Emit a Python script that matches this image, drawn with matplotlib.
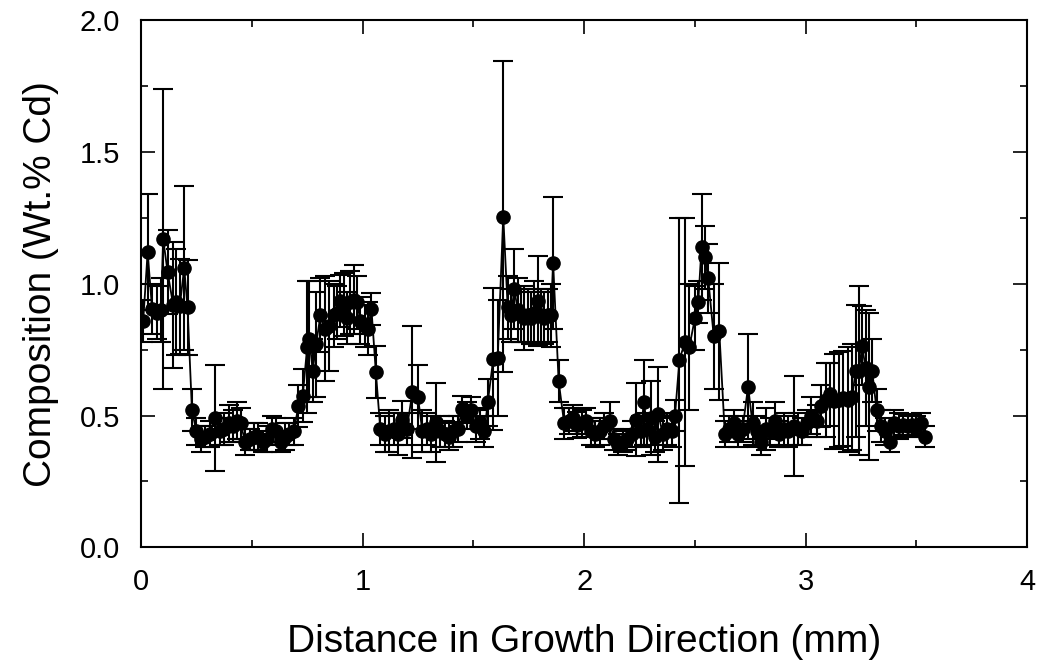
import matplotlib
matplotlib.use("Agg")
import matplotlib.pyplot as plt
from matplotlib.ticker import MultipleLocator, FormatStrFormatter

# ---- data ----
x_a = [0.01, 0.03, 0.05, 0.07, 0.09, 0.10, 0.12, 0.145, 0.16, 0.175, 0.195, 0.21, 0.23, 0.25]
y_a = [0.86, 1.12, 0.905, 0.89, 0.90, 1.17, 1.045, 0.92, 0.93, 0.915, 1.06, 0.91, 0.52, 0.44]
e_a = [0.08, 0.22, 0.095, 0.10, 0.12, 0.57, 0.16, 0.24, 0.20, 0.18, 0.31, 0.18, 0.08, 0.05]

x_b = [0.27, 0.29, 0.31, 0.335, 0.355, 0.375, 0.395, 0.415, 0.435, 0.45, 0.47, 0.49, 0.51,
       0.53, 0.55, 0.57, 0.59, 0.61, 0.63, 0.65, 0.67, 0.69]
y_b = [0.41, 0.42, 0.43, 0.49, 0.44, 0.45, 0.47, 0.46, 0.48, 0.47, 0.40, 0.41, 0.42,
       0.42, 0.40, 0.41, 0.45, 0.44, 0.40, 0.42, 0.43, 0.44]
e_b = [0.05, 0.04, 0.05, 0.20, 0.05, 0.06, 0.07, 0.06, 0.07, 0.06, 0.05, 0.04, 0.05,
       0.05, 0.04, 0.05, 0.05, 0.05, 0.04, 0.05, 0.04, 0.05]

x_c = [0.71, 0.73, 0.75, 0.76, 0.775, 0.79, 0.81, 0.83, 0.85, 0.87, 0.885, 0.90, 0.915,
       0.93, 0.945, 0.96, 0.975, 0.99, 1.01, 1.025, 1.04, 1.06]
y_c = [0.535, 0.575, 0.76, 0.79, 0.67, 0.77, 0.88, 0.83, 0.84, 0.88, 0.89, 0.935, 0.92,
       0.87, 0.93, 0.94, 0.93, 0.86, 0.84, 0.83, 0.905, 0.665]
e_c = [0.08, 0.10, 0.25, 0.22, 0.12, 0.20, 0.14, 0.20, 0.17, 0.12, 0.10, 0.10, 0.12,
       0.10, 0.12, 0.13, 0.10, 0.09, 0.08, 0.10, 0.06, 0.10]

x_d = [1.08, 1.10, 1.12, 1.14, 1.16, 1.18, 1.20, 1.225, 1.25, 1.27, 1.29, 1.31, 1.33,
       1.35, 1.37, 1.39, 1.41, 1.43, 1.45, 1.47, 1.49, 1.51, 1.53, 1.55, 1.565]
y_d = [0.45, 0.43, 0.44, 0.45, 0.43, 0.485, 0.45, 0.59, 0.57, 0.44, 0.45, 0.43, 0.475,
       0.44, 0.43, 0.42, 0.44, 0.45, 0.525, 0.50, 0.52, 0.46, 0.47, 0.44, 0.55]
e_d = [0.06, 0.07, 0.08, 0.06, 0.08, 0.07, 0.06, 0.25, 0.12, 0.08, 0.06, 0.07, 0.15,
       0.06, 0.05, 0.05, 0.06, 0.05, 0.05, 0.05, 0.05, 0.06, 0.06, 0.06, 0.09]

x_e = [1.59, 1.61, 1.635, 1.655, 1.67, 1.685, 1.70, 1.715, 1.73, 1.745, 1.76, 1.775,
       1.79, 1.805, 1.82, 1.835, 1.85, 1.86, 1.885]
y_e = [0.715, 0.72, 1.255, 0.91, 0.88, 0.98, 0.90, 0.88, 0.87, 0.88, 0.87, 0.89,
       0.935, 0.88, 0.87, 0.88, 0.88, 1.08, 0.63]
e_e = [0.27, 0.22, 0.59, 0.12, 0.10, 0.15, 0.12, 0.10, 0.12, 0.10, 0.10, 0.12,
       0.17, 0.10, 0.10, 0.10, 0.12, 0.25, 0.08]

x_f = [1.91, 1.93, 1.95, 1.97, 1.99, 2.01, 2.03, 2.05, 2.07, 2.09, 2.115, 2.135, 2.155,
       2.175, 2.195, 2.215, 2.235, 2.255, 2.27, 2.285, 2.30, 2.32, 2.335, 2.355, 2.375,
       2.395, 2.41]
y_f = [0.47, 0.48, 0.49, 0.465, 0.47, 0.48, 0.44, 0.43, 0.44, 0.46, 0.48, 0.41, 0.39,
       0.40, 0.41, 0.43, 0.485, 0.44, 0.55, 0.45, 0.49, 0.42, 0.505, 0.43, 0.45,
       0.44, 0.50]
e_f = [0.06, 0.05, 0.05, 0.05, 0.05, 0.05, 0.05, 0.05, 0.05, 0.05, 0.07, 0.04, 0.04,
       0.04, 0.04, 0.05, 0.14, 0.06, 0.16, 0.06, 0.14, 0.06, 0.18, 0.06, 0.06,
       0.06, 0.06]

x_g = [2.43, 2.455, 2.475, 2.50, 2.515, 2.53, 2.545, 2.56, 2.585, 2.61]
y_g = [0.71, 0.78, 0.76, 0.87, 0.93, 1.14, 1.10, 1.02, 0.80, 0.82]
e_g = [0.54, 0.47, 0.24, 0.12, 0.08, 0.20, 0.12, 0.13, 0.20, 0.26]

x_h = [2.635, 2.655, 2.675, 2.695, 2.715, 2.74, 2.76, 2.78, 2.80, 2.82, 2.84, 2.86,
       2.88, 2.90, 2.92, 2.945, 2.965, 2.985, 3.005, 3.025]
y_h = [0.43, 0.45, 0.47, 0.43, 0.45, 0.61, 0.47, 0.44, 0.40, 0.45, 0.44, 0.48,
       0.43, 0.45, 0.44, 0.46, 0.45, 0.44, 0.47, 0.50]
e_h = [0.05, 0.05, 0.05, 0.05, 0.05, 0.20, 0.08, 0.06, 0.05, 0.08, 0.05, 0.07,
       0.05, 0.06, 0.06, 0.19, 0.06, 0.05, 0.05, 0.07]

x_i = [3.05, 3.07, 3.09, 3.11, 3.13, 3.15, 3.17, 3.19, 3.21, 3.225, 3.24, 3.255, 3.27,
       3.285, 3.30, 3.32, 3.34, 3.36, 3.38, 3.40, 3.42, 3.44, 3.46, 3.48, 3.50, 3.52, 3.54]
y_i = [0.48, 0.535, 0.56, 0.58, 0.555, 0.56, 0.565, 0.56, 0.57, 0.67, 0.67, 0.765, 0.68,
       0.61, 0.67, 0.52, 0.46, 0.44, 0.40, 0.47, 0.46, 0.465, 0.46, 0.465, 0.46, 0.47, 0.42]
e_i = [0.06, 0.08, 0.14, 0.12, 0.18, 0.18, 0.18, 0.20, 0.20, 0.25, 0.32, 0.15, 0.22,
       0.28, 0.12, 0.08, 0.06, 0.05, 0.04, 0.05, 0.05, 0.04, 0.04, 0.04, 0.04, 0.04, 0.04]

distance = x_a + x_b + x_c + x_d + x_e + x_f + x_g + x_h + x_i
composition = y_a + y_b + y_c + y_d + y_e + y_f + y_g + y_h + y_i
error = e_a + e_b + e_c + e_d + e_e + e_f + e_g + e_h + e_i

x_label = "Distance in Growth Direction (mm)"
y_label = "Composition (Wt.% Cd)"

# ---- figure ----
plt.rcParams['font.family'] = ['Liberation Sans', 'DejaVu Sans']
fig = plt.figure(figsize=(10.39, 6.70), dpi=100)
ax = fig.add_axes([0.1357, 0.183, 0.8530, 0.787])

ax.errorbar(distance, composition, yerr=error, fmt='o-', color='black',
            ms=9.5, lw=1.3, elinewidth=1.5, capsize=7, capthick=1.5)

ax.set_xlim(0, 4)
ax.set_ylim(0, 2.0)
ax.xaxis.set_major_locator(MultipleLocator(1))
ax.xaxis.set_minor_locator(MultipleLocator(0.5))
ax.yaxis.set_major_locator(MultipleLocator(0.5))
ax.yaxis.set_minor_locator(MultipleLocator(0.25))
ax.yaxis.set_major_formatter(FormatStrFormatter('%.1f'))

ax.tick_params(which='both', direction='in', top=True, right=True, width=1.2)
ax.tick_params(which='major', length=10, labelsize=21, pad=15)
ax.tick_params(which='minor', length=5)
for s in ax.spines.values():
    s.set_linewidth(1.5)

ax.set_xlabel(x_label, fontsize=28, labelpad=20)
ax.set_ylabel(y_label, fontsize=28, labelpad=15)

fig.savefig("out.png", dpi=100, facecolor='white')
